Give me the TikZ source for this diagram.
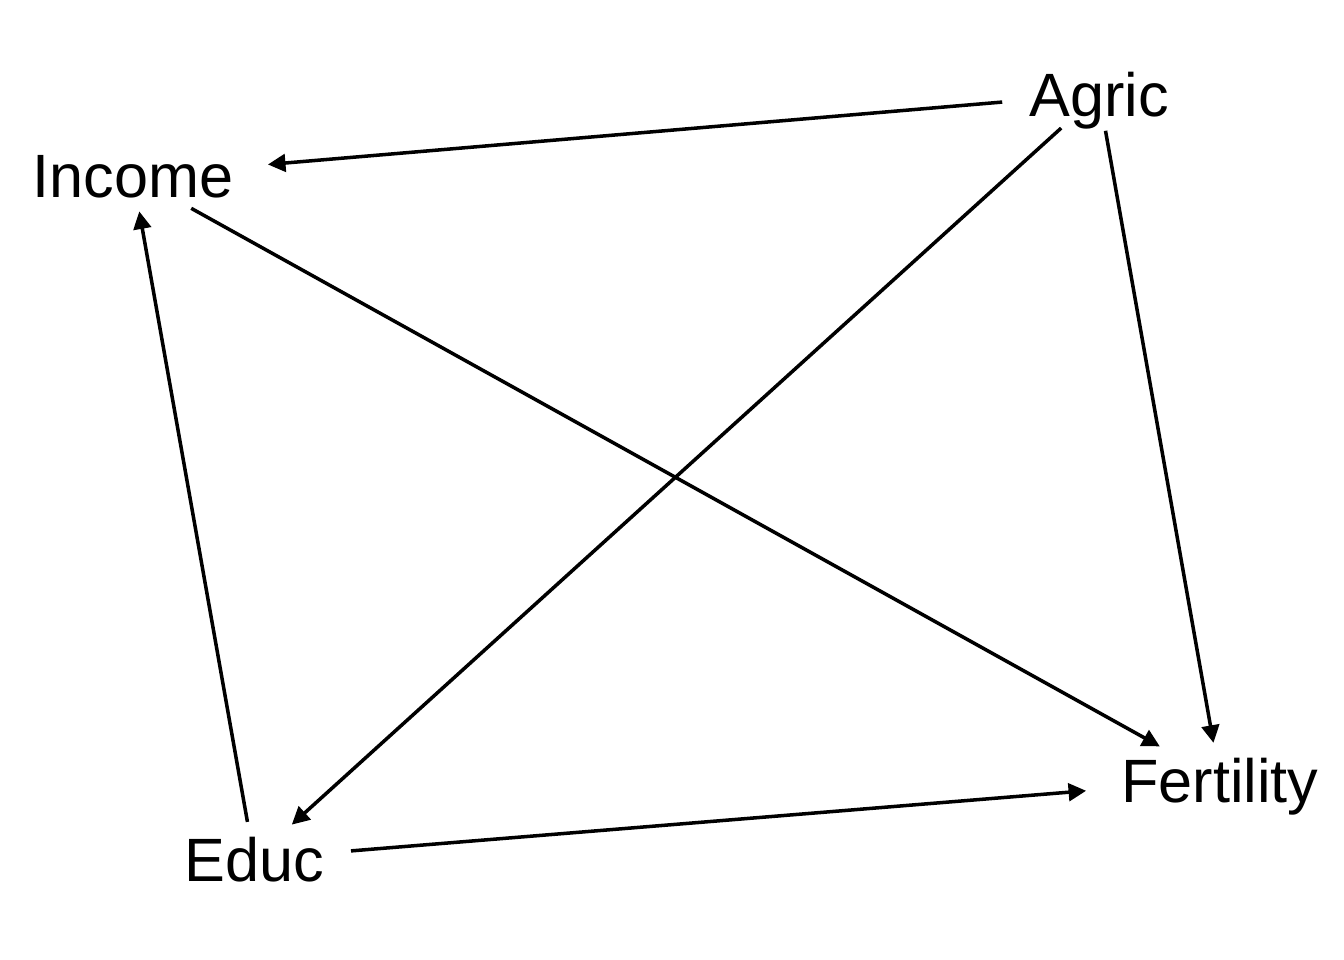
\documentclass[tikz,border=0pt]{standalone}
\usepackage{fontspec}
\setmainfont{Liberation Sans}
\usetikzlibrary{arrows.meta,shapes.geometric}
\begin{document}
\begin{tikzpicture}[x=0.01cm,y=-0.01cm,
  var/.style={ellipse,inner xsep=0pt,inner ysep=1pt,text depth=0pt,font=\fontsize{17.4}{21}\selectfont},
  edge/.style={-{Triangle[length=5pt,width=5pt]},line width=1pt}]
\useasboundingbox (0,0) rectangle (1344,960);
\node[var,anchor=base] (agric) at (1099,116) {Agric};
\node[var,anchor=base] (income) at (133,197) {Income};
\node[var,anchor=base] (fert) at (1220,802) {Fertility};
\node[var,anchor=base] (educ) at (254,881) {Educ};
\draw[edge] (agric) -- (income);
\draw[edge] (agric) -- (educ);
\draw[edge] (agric) -- (fert);
\draw[edge] (income) -- (fert);
\draw[edge] (educ) -- (income);
\draw[edge] (educ) -- (fert);
\end{tikzpicture}
\end{document}
